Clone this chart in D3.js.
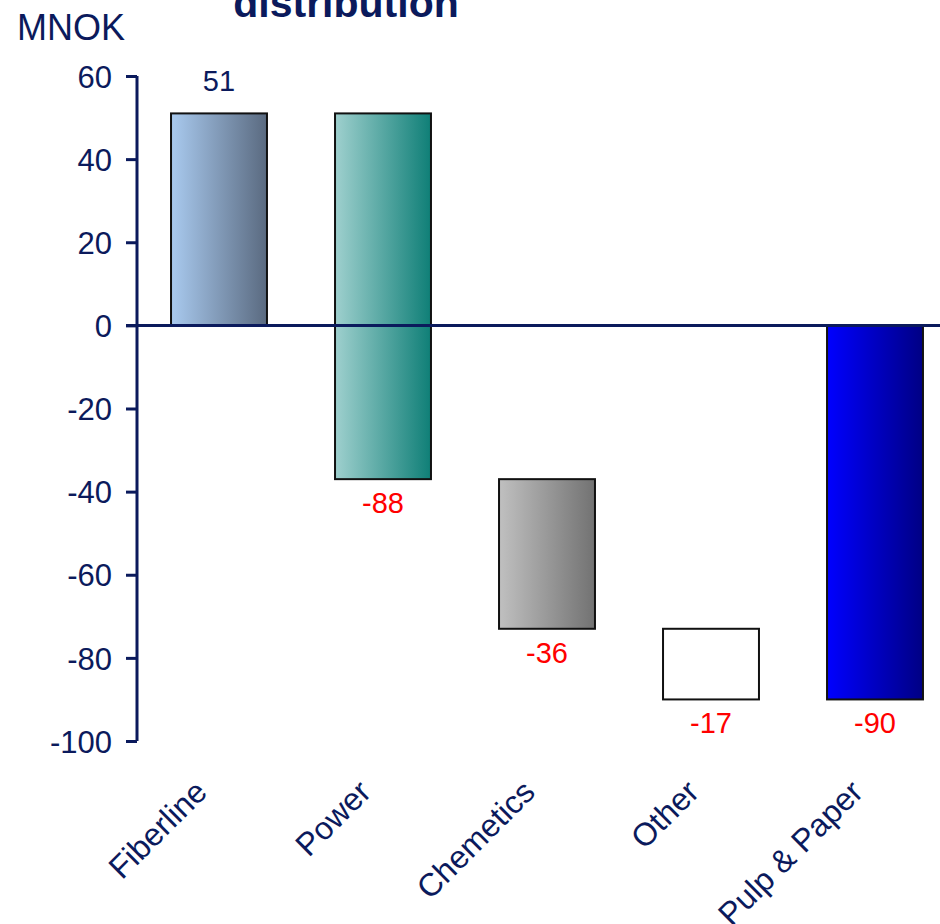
<!DOCTYPE html>
<html>
<head>
<meta charset="utf-8">
<script src="https://cdn.jsdelivr.net/npm/d3@7"></script>
<style>
  html, body { margin: 0; padding: 0; background: #fff; overflow: hidden; }
  svg { display: block; font-family: "Liberation Sans", Arial, sans-serif; }
</style>
</head>
<body>
<svg id="chart" width="940" height="924"></svg>
<script>
// ---- data ----
const categories = ["Fiberline", "Power", "Chemetics", "Other", "Pulp & Paper"];
const values = [51, -88, -36, -17, -90];
const isTotal = [false, false, false, false, true];
const yTicks = [60, 40, 20, 0, -20, -40, -60, -80, -100];
const barColors = [
  ["#a9caef", "#5a6a80"],
  ["#9fd0ce", "#0f7f77"],
  ["#c0c0c0", "#727272"],
  ["#ffffff", "#ffffff"],
  ["#0000ff", "#000084"]
];
const unitLabel = "MNOK";
const titleText = "distribution";

// ---- derived waterfall ----
let run = 0;
const bars = categories.map((c, i) => {
  let start, end;
  if (isTotal[i]) { start = 0; end = values[i]; }
  else { start = run; end = run + values[i]; run = end; }
  return { cat: c, value: values[i], start, end, colors: barColors[i], i };
});

const navy = "#0b1a5c";
const svg = d3.select("#chart");

const y = d3.scaleLinear().domain([-100, 60]).range([741, 76]);
const x = d3.scaleBand().domain(categories).range([137, 957])
  .paddingInner(0.415).paddingOuter(0.2075);

// gradients
const defs = svg.append("defs");
bars.forEach(b => {
  const g = defs.append("linearGradient").attr("id", "g" + b.i)
    .attr("x1", "0%").attr("x2", "100%").attr("y1", "0%").attr("y2", "0%");
  g.append("stop").attr("offset", "0%").attr("stop-color", b.colors[0]);
  g.append("stop").attr("offset", "100%").attr("stop-color", b.colors[1]);
});

// title & unit
svg.append("text").attr("x", 346).attr("y", 17).attr("text-anchor", "middle")
  .attr("font-size", 41).attr("font-weight", "bold").attr("fill", navy).text(titleText);
svg.append("text").attr("x", 17).attr("y", 40)
  .attr("font-size", 36).attr("fill", navy).text(unitLabel);

// bars
svg.append("g").selectAll("rect").data(bars).join("rect")
  .attr("x", d => x(d.cat))
  .attr("width", x.bandwidth())
  .attr("y", d => y(Math.max(d.start, d.end)))
  .attr("height", d => Math.abs(y(d.start) - y(d.end)))
  .attr("fill", d => "url(#g" + d.i + ")")
  .attr("stroke", "#111")
  .attr("stroke-width", 2);

// y axis
const yAxis = d3.axisLeft(y).tickValues(yTicks).tickSize(11).tickPadding(14)
  .tickFormat(d => String(d));
const ga = svg.append("g").attr("transform", "translate(137,0)").call(yAxis);
ga.select(".domain").attr("stroke", navy).attr("stroke-width", 3)
  .attr("d", "M0," + y(60) + "V" + y(-100));
ga.selectAll(".tick line").attr("stroke", navy).attr("stroke-width", 3);
ga.selectAll(".tick text").attr("fill", navy).attr("font-size", 31)
  .attr("font-family", "'Liberation Sans', Arial, sans-serif").attr("dy", "0.36em");

// zero line
svg.append("line").attr("x1", 126).attr("x2", 940)
  .attr("y1", y(0)).attr("y2", y(0))
  .attr("stroke", navy).attr("stroke-width", 3);

// value labels
svg.append("g").selectAll("text").data(bars).join("text")
  .attr("x", d => x(d.cat) + x.bandwidth() / 2)
  .attr("y", d => d.value >= 0 ? y(d.end) - 22 : y(Math.min(d.start, d.end)) + 34)
  .attr("text-anchor", "middle")
  .attr("font-size", 29)
  .attr("fill", d => d.value >= 0 ? navy : "#ff0000")
  .text(d => d.value);

// category labels
svg.append("g").selectAll("text").data(bars).join("text")
  .attr("transform", d => `translate(${x(d.cat) + x.bandwidth() / 2 - 26},${778}) rotate(-45)`)
  .attr("text-anchor", "end")
  .attr("dy", "0.7em")
  .attr("font-size", 32)
  .attr("fill", navy)
  .text(d => d.cat);
</script>
</body>
</html>
